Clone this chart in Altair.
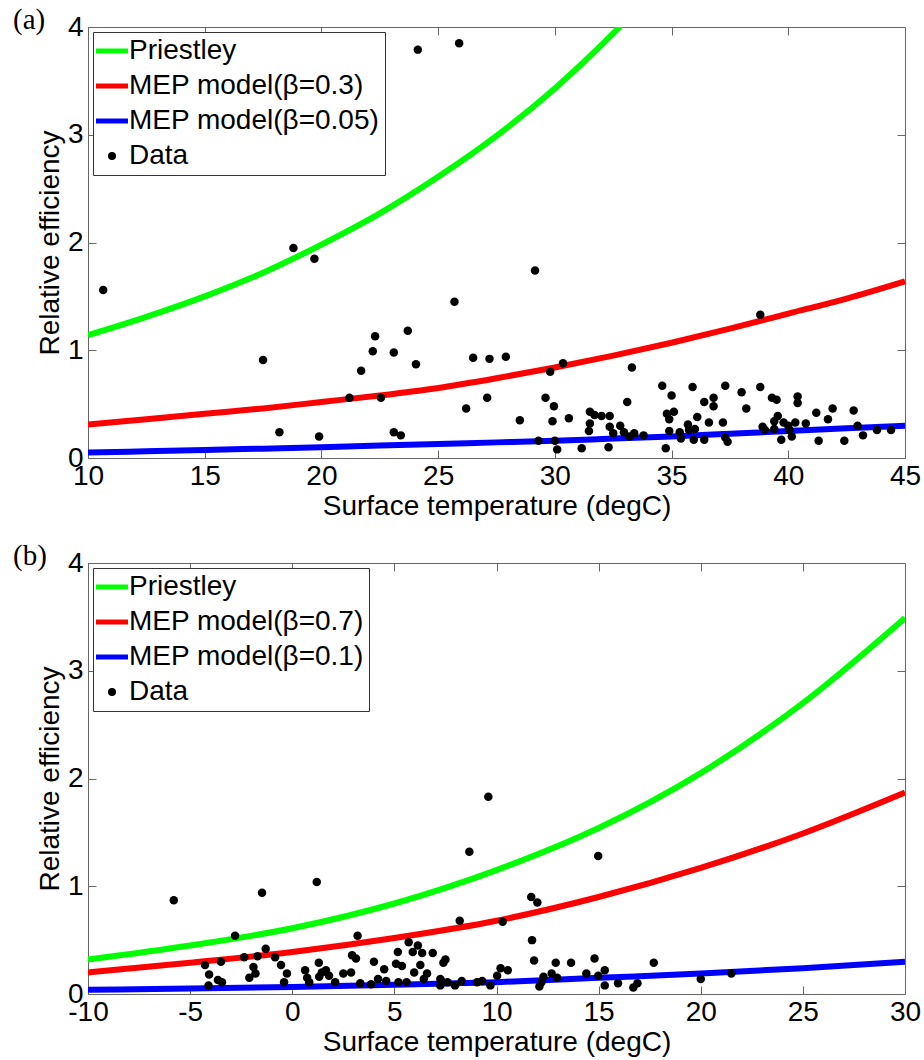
import altair as alt
import pandas as pd

# ---------------- Panel (a) ----------------
A_CURVE_T = [10, 12.5, 15, 17.5, 20, 22.5, 25, 27.5, 30, 32.5, 35, 37.5, 40, 42.5, 45]
A_PRIESTLEY_T = [10, 12.5, 15, 17.5, 20, 22.5, 25, 27.5, 30, 32.5, 33.0]
A_PRIESTLEY = [1.14, 1.31, 1.50, 1.72, 1.98, 2.27, 2.61, 2.99, 3.43, 3.94, 4.05]
A_MEP_HI = [0.31, 0.36, 0.41, 0.46, 0.52, 0.58, 0.65, 0.74, 0.84, 0.95, 1.07, 1.20, 1.34, 1.48, 1.64]
A_MEP_LO = [0.05, 0.062, 0.075, 0.087, 0.10, 0.115, 0.13, 0.145, 0.16, 0.18, 0.20, 0.225, 0.25, 0.275, 0.30]
A_LABELS = ["Priestley", "MEP model(β=0.3)", "MEP model(β=0.05)", "Data"]

A_DATA_T = [10.65, 18.8, 19.7, 24.13, 25.9, 29.15, 25.7, 38.8,
            17.5, 22.3, 22.2, 23.1, 23.7, 24.05, 21.7, 21.2, 22.55, 18.2, 19.9, 23.1, 23.4,
            26.5, 27.2, 27.9, 29.8, 30.35, 33.3, 27.1, 26.2, 28.5, 29.6, 29.96, 29.9, 30.6,
            29.3, 30.0, 30.1, 31.15,
            31.5, 31.7, 32.0, 32.35, 31.5, 31.46, 32.35, 32.5, 32.8, 32.96, 33.2, 33.4, 33.8,
            32.3, 33.1,
            34.6, 35.0, 35.9, 34.8, 35.1, 34.9, 34.9, 34.75, 35.35, 35.4, 35.7, 35.75, 36.0,
            35.95, 36.1, 36.4, 36.6, 36.4, 36.8, 36.8, 37.3, 37.2, 37.3, 37.4, 38.0, 38.2,
            38.8, 38.9, 39.0, 39.3, 39.5, 39.55, 39.4, 39.4, 39.7, 39.8, 40.0, 40.06, 40.15,
            40.4, 40.4, 40.3, 40.75, 41.2, 41.3, 41.7, 41.9, 42.4, 42.8, 42.97, 43.2, 43.8, 44.4]
A_DATA_V = [1.56, 1.95, 1.85, 3.79, 3.85, 1.74, 1.45, 1.33,
            0.91, 1.13, 0.99, 0.98, 1.18, 0.87, 0.81, 0.56, 0.56, 0.24, 0.20, 0.24, 0.21,
            0.93, 0.92, 0.94, 0.80, 0.88, 0.84, 0.56, 0.46, 0.35, 0.56, 0.48, 0.34, 0.37,
            0.16, 0.16, 0.08, 0.09,
            0.43, 0.40, 0.39, 0.39, 0.32, 0.25, 0.29, 0.23, 0.30, 0.24, 0.20, 0.23, 0.21,
            0.10, 0.52,
            0.67, 0.58, 0.66, 0.41, 0.43, 0.36, 0.25, 0.09, 0.24, 0.18, 0.31, 0.26, 0.27,
            0.17, 0.38, 0.17, 0.33, 0.52, 0.56, 0.48, 0.67, 0.33, 0.19, 0.15, 0.61, 0.46,
            0.66, 0.29, 0.26, 0.56, 0.54, 0.39, 0.34, 0.27, 0.17, 0.33, 0.30, 0.26, 0.20,
            0.57, 0.51, 0.33, 0.32, 0.42, 0.16, 0.36, 0.46, 0.16, 0.44, 0.30, 0.21, 0.26, 0.26]

# ---------------- Panel (b) ----------------
B_CURVE_T = [-10, -5, 0, 5, 10, 15, 20, 25, 30]
B_PRIESTLEY = [0.32, 0.45, 0.61, 0.84, 1.15, 1.54, 2.05, 2.70, 3.49]
B_MEP_HI = [0.20, 0.29, 0.39, 0.52, 0.68, 0.90, 1.17, 1.49, 1.87]
B_MEP_LO = [0.04, 0.05, 0.065, 0.085, 0.11, 0.15, 0.19, 0.24, 0.30]
B_LABELS = ["Priestley", "MEP model(β=0.7)", "MEP model(β=0.1)", "Data"]

B_DATA_T = [-5.8, -1.48, 1.2, -2.8, 3.2, -4.27, -4.07, -4.1, -3.64, -3.44, -3.49, -2.35,
            -1.9, -2.1, -1.8, -1.7, -1.3, -0.84, -0.55, -0.26, -0.4, 0.63, 0.73, 0.83, 1.3,
            1.32, 1.45, 1.65, 1.8, 2.1, 2.5, 2.88, 2.93, 3.12, 3.33, 4.0, 3.86, 4.2, 4.5,
            4.6, 5.17, 5.08, 5.37, 5.2, 5.6, 5.7, 5.9, 6.15, 6.27, 6.36, 5.97, 6.44, 6.6,
            6.88, 7.4, 7.25, 7.25, 7.6, 7.97,
            9.6, 8.67, 14.98, 11.7, 12.0, 8.2, 10.3, 11.74, 7.5, 11.84, 12.9, 13.65, 14.8,
            17.7, 10.2, 10.55, 10.03, 12.3, 12.7, 12.97, 14.4, 14.98, 15.3, 7.3, 8.3, 9.05,
            9.3, 9.7, 12.1, 12.2, 15.3, 15.95, 16.7, 16.9, 20.0, 21.5]
B_DATA_V = [0.87, 0.94, 1.04, 0.54, 0.54, 0.27, 0.18, 0.08, 0.13, 0.11, 0.30, 0.34,
            0.25, 0.15, 0.19, 0.35, 0.42, 0.34, 0.27, 0.19, 0.11, 0.22, 0.15, 0.11, 0.29,
            0.16, 0.20, 0.22, 0.17, 0.11, 0.19, 0.20, 0.36, 0.33, 0.10, 0.30, 0.09, 0.14, 0.23,
            0.12, 0.39, 0.28, 0.26, 0.11, 0.11, 0.48, 0.39, 0.45, 0.27, 0.38, 0.20, 0.14, 0.19,
            0.38, 0.29, 0.14, 0.08, 0.11, 0.08,
            1.83, 1.32, 1.28, 0.90, 0.85, 0.68, 0.67, 0.50, 0.32, 0.31, 0.29, 0.29, 0.33,
            0.29, 0.24, 0.22, 0.17, 0.16, 0.19, 0.15, 0.19, 0.17, 0.22, 0.12, 0.12, 0.11,
            0.12, 0.08, 0.07, 0.11, 0.08, 0.10, 0.06, 0.10, 0.14, 0.19]

COLORS = ["#00ff00", "#ff0000", "#0000ff", "#000000"]
FONT = "Liberation Sans"
FS = 28
W, H = 817, 431
BOX = "#666666"


def curves_frame(labels, sets):
    rows = []
    for lab, (ts, vs) in zip(labels, sets):
        for t, v in zip(ts, vs):
            rows.append({"T": t, "v": v, "series": lab})
    return pd.DataFrame(rows)


def panel(curves, pts, xdomain, labels, tag):
    xs = alt.Scale(domain=xdomain, nice=False, zero=False)
    ys = alt.Scale(domain=[0, 4], nice=False, zero=False)
    xt = list(range(xdomain[0], xdomain[1] + 1, 5))
    yt = [0, 1, 2, 3, 4]
    common = dict(domain=False, grid=False, tickSize=8, offset=-8, tickColor=BOX,
                  tickWidth=1, labelOverlap=False, labelFlush=False)
    is_data = "datum.label === 'Data'"
    legend = alt.Legend(
        title=None, orient="top-left", offset=5, padding=5, rowPadding=7,
        labelOffset=3, labelFont=FONT, labelFontSize=FS, labelColor="black", labelLimit=500,
        fillColor="white", strokeColor="#333333",
        symbolType=alt.ExprRef(expr=f"{is_data} ? 'circle' : 'stroke'"),
        symbolSize=alt.ExprRef(expr=f"{is_data} ? 64 : 1024"),
        symbolStrokeWidth=alt.ExprRef(expr=f"{is_data} ? 0 : 5"),
        symbolFillColor=alt.ExprRef(expr=f"{is_data} ? 'black' : 'transparent'"),
    )
    lines = alt.Chart(curves).mark_line(strokeWidth=6, clip=True, interpolate="monotone").encode(
        x=alt.X("T:Q", scale=xs, axis=alt.Axis(orient="bottom", values=xt, title="Surface temperature (degC)",
                                                labelExpr="toString(datum.value)",
                                                labelPadding=4, titlePadding=2, **common)),
        y=alt.Y("v:Q", scale=ys, axis=alt.Axis(orient="left", values=yt, title="Relative efficiency",
                                                labelPadding=5, titlePadding=3, **common)),
        color=alt.Color("series:N", scale=alt.Scale(domain=labels, range=COLORS), legend=legend),
    )
    dots = alt.Chart(pts).mark_circle(size=72, color="black", opacity=1).encode(
        x=alt.X("T:Q", scale=xs, axis=alt.Axis(orient="top", values=xt, labels=False, title=None, **common)),
        y=alt.Y("v:Q", scale=ys, axis=alt.Axis(orient="right", values=yt, labels=False, title=None, **common)),
    )
    return alt.layer(lines, dots).resolve_axis(x="independent", y="independent").properties(
        width=W, height=H,
        title=alt.TitleParams(text=tag, anchor="start", frame="group", font="Liberation Serif",
                              fontSize=29, fontWeight="normal", color="black", dx=-75, dy=22, offset=0),
    )


a_curves = curves_frame(A_LABELS[:3], [(A_PRIESTLEY_T, A_PRIESTLEY), (A_CURVE_T, A_MEP_HI), (A_CURVE_T, A_MEP_LO)])
b_curves = curves_frame(B_LABELS[:3], [(B_CURVE_T, B_PRIESTLEY), (B_CURVE_T, B_MEP_HI), (B_CURVE_T, B_MEP_LO)])
a_pts = pd.DataFrame({"T": A_DATA_T, "v": A_DATA_V})
b_pts = pd.DataFrame({"T": B_DATA_T, "v": B_DATA_V})

pa = panel(a_curves, a_pts, [10, 45], A_LABELS, "(a)")
pb = panel(b_curves, b_pts, [-10, 30], B_LABELS, "(b)")

chart = alt.vconcat(pa, pb, spacing=20).resolve_scale(color="independent").properties(
    padding={"left": 12, "top": 5, "right": 2, "bottom": 2}, background="white"
).configure_view(stroke=BOX, strokeWidth=1).configure_axis(
    labelFont=FONT, labelFontSize=FS, labelColor="black",
    titleFont=FONT, titleFontSize=FS, titleColor="black", titleFontWeight="normal",
)

chart.save("out.html", embed_options={"renderer": "svg", "actions": False})
